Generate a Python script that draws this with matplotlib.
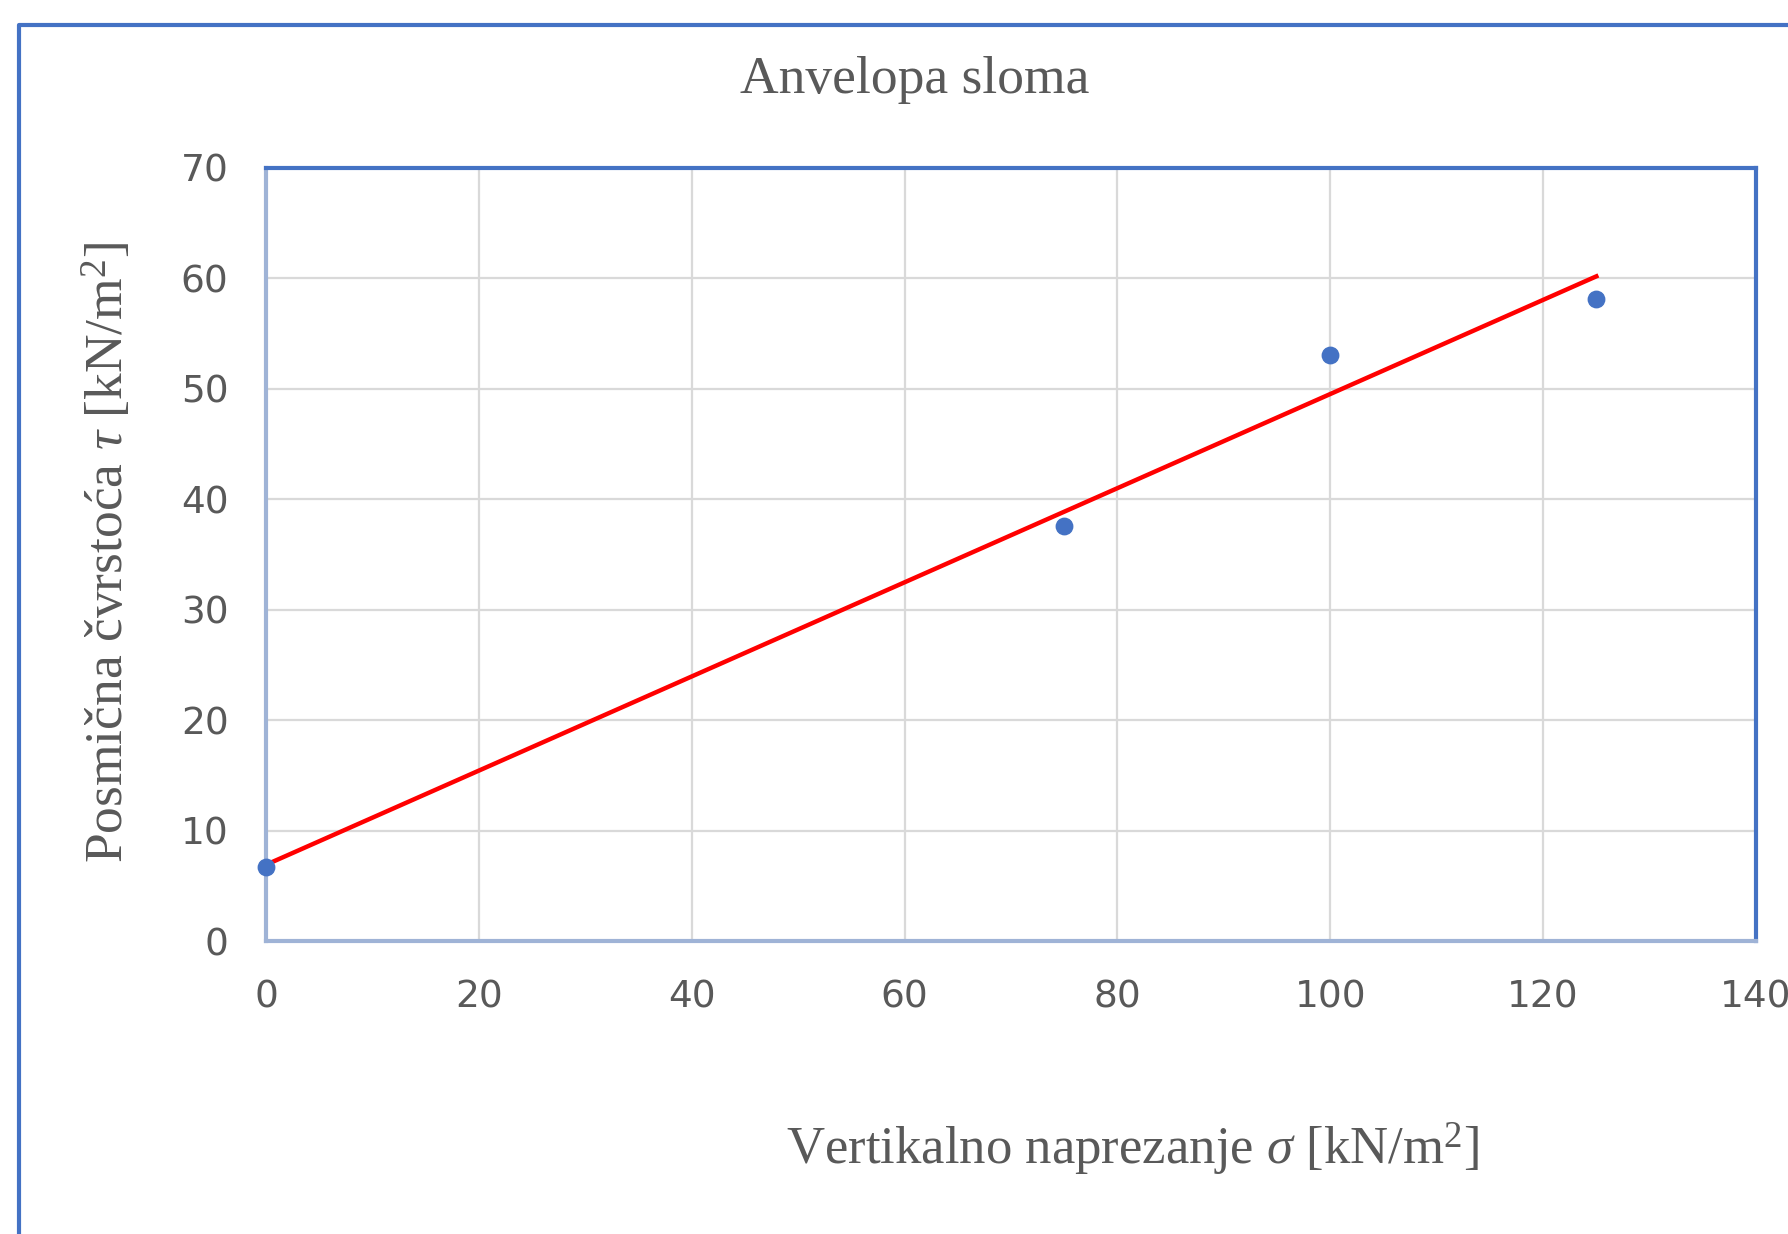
import numpy as np
import matplotlib
matplotlib.use("Agg")
import matplotlib.pyplot as plt
from matplotlib.lines import Line2D

# measured points (sigma, tau)
sigma = [0, 75, 100, 125]
tau = [6.7, 37.6, 53.1, 58.1]

x_ticks = [0, 20, 40, 60, 80, 100, 120, 140]
y_ticks = [0, 10, 20, 30, 40, 50, 60, 70]

title = "Anvelopa sloma"
x_label = "Vertikalno naprezanje $\\sigma$ [kN/m$^2$]"
y_label = "Posmična čvrstoća $\\tau$ [kN/m$^2$]"

plt.rcParams["mathtext.fontset"] = "custom"
plt.rcParams["mathtext.rm"] = "Liberation Serif"
plt.rcParams["mathtext.it"] = "Liberation Serif:italic"

W, H = 1788, 1234
fig = plt.figure(figsize=(W / 100, H / 100), dpi=100)
ax = fig.add_axes([266 / W, 1 - 941 / H, (1756 - 266) / W, (941 - 168) / H])

# linear trendline through the measured points
k, c = np.polyfit(sigma, tau, 1)
xs = np.array([min(sigma), max(sigma)])
ax.plot(xs, k * xs + c, color="#ff0000", lw=3.2, zorder=3)
ax.scatter(sigma, tau, s=140, color="#4472C4", zorder=4, clip_on=False)

ax.set_xlim(0, 140)
ax.set_ylim(0, 70)
ax.set_xticks(x_ticks)
ax.set_yticks(y_ticks)
ax.grid(True, color="#d9d9d9", lw=1.6)
ax.set_axisbelow(True)
ax.tick_params(length=0, labelsize=27, labelcolor="#595959")
ax.tick_params(axis="y", pad=27)
ax.tick_params(axis="x", pad=28)
for lab in ax.get_xticklabels() + ax.get_yticklabels():
    lab.set_family("DejaVu Sans")

for s in ["top", "right"]:
    ax.spines[s].set_color("#4472C4")
    ax.spines[s].set_linewidth(3)
for s in ["left", "bottom"]:
    ax.spines[s].set_color("#9fb3d6")
    ax.spines[s].set_linewidth(3)

fig.text(915 / W, 1 - 80 / H, title, ha="center", va="center",
         family="Liberation Serif", fontsize=38.5, color="#595959")
fig.text(1132 / W, 1 - 1149 / H, x_label, ha="center", va="center",
         family="Liberation Serif", fontsize=38, color="#595959")
fig.text(108 / W, 1 - 552 / H, y_label, ha="center", va="center", rotation=90,
         family="Liberation Serif", fontsize=38.5, color="#595959")

# outer chart frame (runs off the right and bottom edges)
fig.add_artist(Line2D([19 / W, 19 / W, 1.01], [-0.01, 1 - 25 / H, 1 - 25 / H],
                      transform=fig.transFigure, color="#4472C4", lw=3))

fig.savefig("out.png", dpi=100, facecolor="white")
